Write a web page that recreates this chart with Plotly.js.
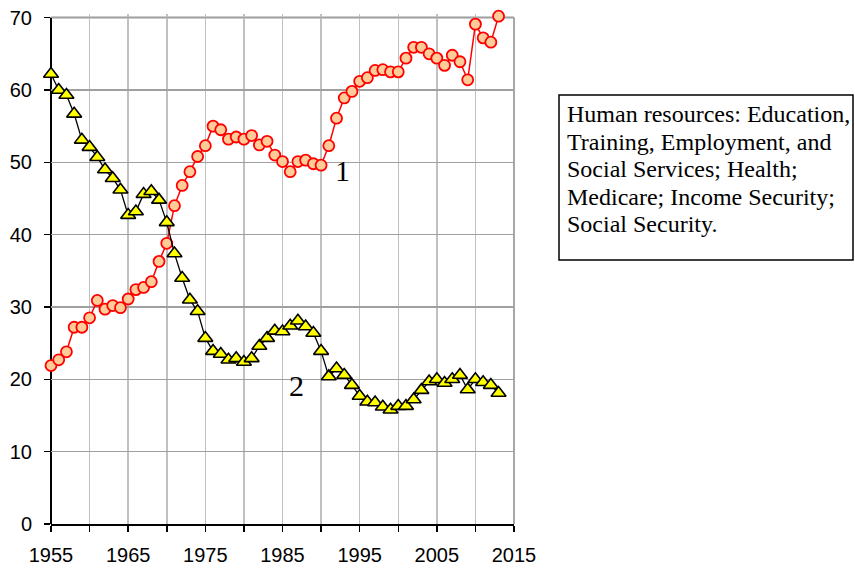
<!DOCTYPE html>
<html>
<head>
<meta charset="utf-8">
<script src="https://cdn.plot.ly/plotly-3.0.1.min.js"></script>
<style>html,body{margin:0;padding:0;background:#fff;}#chart{width:855px;height:569px;}</style>
</head>
<body>
<div id="chart"></div>
<script>
// Fiscal years
const years = [
  1955,1956,1957,1958,1959,1960,1961,1962,1963,1964,
  1965,1966,1967,1968,1969,1970,1971,1972,1973,1974,
  1975,1976,1977,1978,1979,1980,1981,1982,1983,1984,
  1985,1986,1987,1988,1989,1990,1991,1992,1993,1994,
  1995,1996,1997,1998,1999,2000,2001,2002,2003,2004,
  2005,2006,2007,2008,2009,2010,2011,2012,2013
];
// Series 1: Human resources (percent)
const series1 = [
  21.9,22.7,23.8,27.2,27.2,28.5,30.9,29.7,30.2,29.9,
  31.1,32.4,32.7,33.5,36.3,38.8,44.0,46.8,48.7,50.8,
  52.3,55.0,54.5,53.2,53.5,53.2,53.7,52.4,52.9,51.0,
  50.1,48.7,50.1,50.3,49.8,49.6,52.3,56.1,58.9,59.8,
  61.2,61.7,62.7,62.8,62.5,62.5,64.4,65.9,65.9,65.0,
  64.4,63.4,64.8,63.9,61.4,69.1,67.2,66.6,70.2
];
// Series 2 (percent)
const series2 = [
  62.2,60.0,59.3,56.7,53.1,52.1,50.7,49.0,47.8,46.2,
  42.7,43.2,45.6,46.0,44.8,41.7,37.4,34.0,31.0,29.4,
  25.7,23.9,23.5,22.7,22.9,22.4,22.9,24.6,25.7,26.7,
  26.6,27.4,28.1,27.3,26.4,23.9,20.4,21.5,20.6,19.2,
  17.7,16.9,16.8,16.2,15.8,16.3,16.3,17.2,18.5,19.7,
  20.0,19.5,20.0,20.6,18.6,20.0,19.6,19.2,18.1
];
const xTickVals = [1955,1960,1965,1970,1975,1980,1985,1990,1995,2000,2005,2010,2015];
const xTickText = ['1955','','1965','','1975','','1985','','1995','','2005','','2015'];
const yTickVals = [0,10,20,30,40,50,60,70];
const yMax = 70;
const boxLines = [
  'Human resources: Education,',
  'Training, Employment, and',
  'Social Services; Health;',
  'Medicare; Income Security;',
  'Social Security.'
];
const seriesLabels = [
  {text:'1', x:1992.8, y:48.9},
  {text:'2', x:1986.8, y:19.1}
];

const tickFont = {family:'"Liberation Sans", Arial, sans-serif', size:20, color:'#000'};
const serif = '"Liberation Serif", "Times New Roman", serif';

const traces = [
  {
    x: years, y: series1, type:'scatter', mode:'lines+markers', cliponaxis:false,
    line:{color:'#ff0000', width:1.5},
    marker:{symbol:'circle', size:11, color:'#ffcc99', line:{color:'#ff0000', width:1.8}},
    hoverinfo:'skip'
  },
  {
    x: years, y: series2, type:'scatter', mode:'lines+markers', cliponaxis:false,
    line:{color:'#000000', width:1.3},
    marker:{symbol:'triangle-up', size:13, color:'#ffff00', line:{color:'#000000', width:1.6}},
    hoverinfo:'skip'
  }
];

// Small headroom above 70 so the last marker (just above 70) stays visible
const headroom = 0.5;
const plotL = 51, plotR = 341, plotT = 14, plotB = 45;
const plotW = 855 - plotL - plotR, plotH = 569 - plotT - plotB;
const px2paperX = p => (p - plotL) / plotW;
const px2paperY = p => (569 - plotB - p) / plotH;

const lineCenters = [114, 142, 169, 196.7, 224];
const annotations = seriesLabels.map(s => ({
  text: s.text, x: s.x, y: s.y, xref:'x', yref:'y', showarrow:false,
  font:{family:serif, size:30, color:'#000'}
})).concat(boxLines.map((t, i) => ({
  text: t, xref:'paper', yref:'paper', x: px2paperX(565), y: px2paperY(lineCenters[i]),
  xanchor:'left', yanchor:'middle', showarrow:false,
  font:{family:serif, size:24, color:'#000'}
})));

const layout = {
  width:855, height:569,
  margin:{l:plotL, r:plotR, t:plotT, b:plotB, pad:0},
  paper_bgcolor:'#ffffff', plot_bgcolor:'#ffffff',
  showlegend:false,
  xaxis:{
    range:[1955, 2015], tickmode:'array', tickvals:xTickVals, ticktext:xTickText,
    showgrid:true, gridcolor:'#c0c0c0', gridwidth:1.5, zeroline:false,
    showline:true, linecolor:'#000', linewidth:2,
    ticks:'outside', ticklen:6, tickwidth:1.5, tickcolor:'#000',
    tickfont:tickFont, ticklabelstandoff:6, fixedrange:true
  },
  yaxis:{
    range:[0, yMax + headroom], tickmode:'array', tickvals:yTickVals,
    showgrid:true, gridcolor:'#a0a0a0', gridwidth:1.5, zeroline:false,
    showline:false,
    ticks:'outside', ticklen:6, tickwidth:1.5, tickcolor:'#000',
    tickfont:tickFont, ticklabelstandoff:8, fixedrange:true
  },
  shapes:[
    {type:'line', xref:'paper', yref:'y', x0:1, x1:1, y0:0, y1:yMax, line:{color:'#a8a8a8', width:2}, layer:'below'},
    {type:'line', xref:'paper', yref:'y', x0:0, x1:1, y0:yMax, y1:yMax, line:{color:'#999999', width:2}, layer:'below'},
    {type:'line', xref:'paper', yref:'y', x0:0, x1:0, y0:0, y1:yMax, line:{color:'#000000', width:2}, layer:'below'},
    {type:'rect', xref:'paper', yref:'paper',
     x0:px2paperX(559), x1:px2paperX(853), y0:px2paperY(260), y1:px2paperY(95),
     line:{color:'#000', width:1.5}, fillcolor:'rgba(0,0,0,0)'}
  ],
  annotations: annotations
};

Plotly.newPlot('chart', traces, layout, {staticPlot:true, displayModeBar:false});
</script>
</body>
</html>
